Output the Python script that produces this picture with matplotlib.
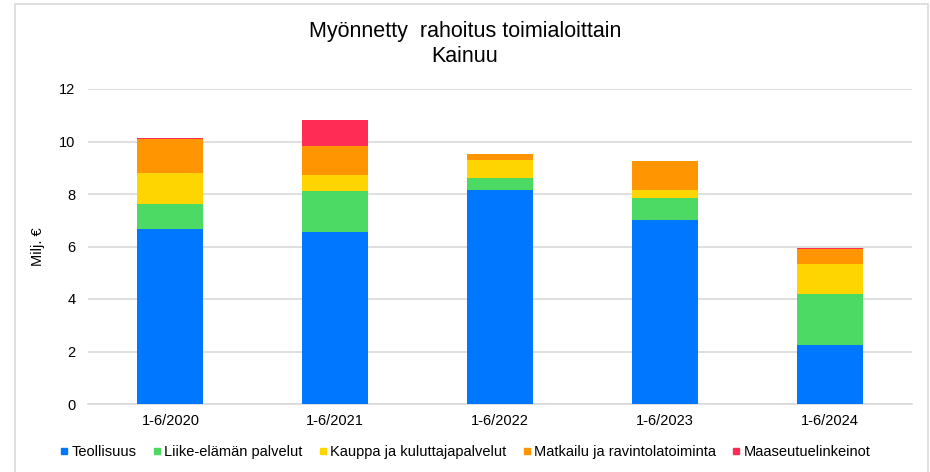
import matplotlib
matplotlib.use('Agg')
import matplotlib.pyplot as plt
from matplotlib.patches import Rectangle
import numpy as np

plt.rcParams['font.family'] = ['Liberation Sans', 'DejaVu Sans']

periods = ['1-6/2020', '1-6/2021', '1-6/2022', '1-6/2023', '1-6/2024']
series_names = ['Teollisuus', 'Liike-elämän palvelut', 'Kauppa ja kuluttajapalvelut',
                'Matkailu ja ravintolatoiminta', 'Maaseutuelinkeinot']
teollisuus = [6.67, 6.55, 8.14, 7.02, 2.23]
liike = [0.95, 1.56, 0.48, 0.83, 1.96]
kauppa = [1.18, 0.61, 0.68, 0.30, 1.14]
matkailu = [1.31, 1.11, 0.24, 1.09, 0.56]
maaseutu = [0.04, 0.99, 0.0, 0.0, 0.07]
colors = ['#0077FF', '#4CD964', '#FFD500', '#FF9500', '#FF2D55']

W, H = 930, 472
fig = plt.figure(figsize=(W / 100, H / 100), dpi=100)

# light grey chart frame like the spreadsheet chart area
fig.patches.append(Rectangle((15 / W, -0.05), (928 - 15) / W, 1.05 - 4 / H,
                             transform=fig.transFigure, fill=False,
                             edgecolor='#d9d9d9', linewidth=1.2))

ax = fig.add_axes([88 / W, (H - 404) / H, (912 - 88) / W, (404 - 89) / H])
x = np.arange(len(periods))
bottom = np.zeros(len(periods))
for name, vals, c in zip(series_names, [teollisuus, liike, kauppa, matkailu, maaseutu], colors):
    ax.bar(x, vals, width=0.4, bottom=bottom, color=c, label=name, zorder=3)
    bottom += np.array(vals)

ax.set_xlim(-0.5, len(periods) - 0.5)
ax.set_ylim(0, 12)
ax.set_yticks(range(0, 13, 2))
ax.set_xticks(x)
ax.set_xticklabels(periods)
ax.tick_params(axis='both', length=0, labelsize=10.5, colors='#000000')
ax.tick_params(axis='y', pad=9)
ax.tick_params(axis='x', pad=7)
ax.grid(axis='y', color='#d9d9d9', linewidth=1.2, zorder=0)
for s in ['top', 'right', 'left']:
    ax.spines[s].set_visible(False)
ax.spines['bottom'].set_color('#d9d9d9')
ax.spines['bottom'].set_linewidth(1.2)
ax.set_ylabel('Milj. €', fontsize=10.5)
ax.yaxis.set_label_coords((45 - 88) / 824, 0.5)

fig.text(0.5, (H - 32) / H, 'Myönnetty  rahoitus toimialoittain', ha='center', va='center', fontsize=15.5)
fig.text(0.5, (H - 57) / H, 'Kainuu', ha='center', va='center', fontsize=15.5)

handles = [plt.Line2D([], [], marker='s', linestyle='', color=c, markersize=5) for c in colors]
fig.legend(handles, series_names, loc='center', bbox_to_anchor=(0.5, (H - 452) / H),
           ncol=5, frameon=False, fontsize=10.5, handlelength=0.6, handletextpad=0.2,
           columnspacing=1.1)

fig.savefig('out.png', dpi=100)
plt.close()
